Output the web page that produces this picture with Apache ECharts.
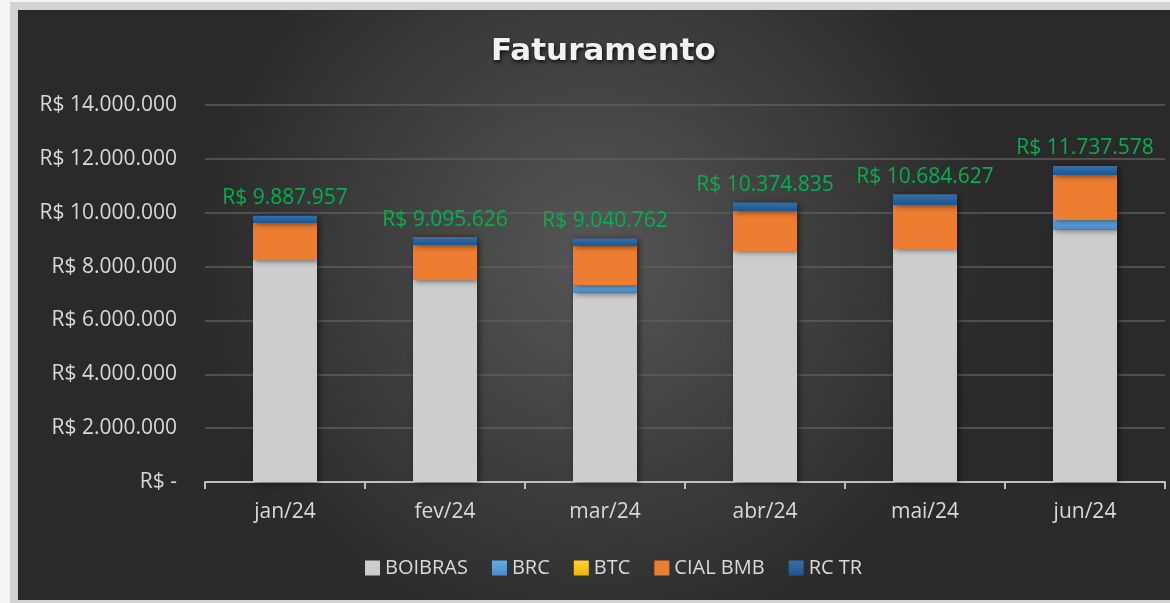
<!DOCTYPE html>
<html lang="pt-BR">
<head>
	<meta charset="utf-8" />
	<title>Faturamento</title>
	<style type="text/css">
		html,body{margin:0;padding:0;background:#f4f4f4;overflow:hidden;}
		.frame{position:absolute;left:10px;top:2px;width:1170px;height:590px;border:8px solid #d3d1d3;border-right:none;}
		#chart{position:absolute;left:0;top:0;width:1152px;height:590px;}
	</style>
</head>
<body>
	<div class="frame"><div id="chart"></div></div>
<script src="https://cdn.jsdelivr.net/npm/echarts@6/dist/echarts.min.js"></script>
<script>
	// dados
	var months = ['jan/24', 'fev/24', 'mar/24', 'abr/24', 'mai/24', 'jun/24'];
	var boibras = [8240000, 7500000, 7030000, 8580000, 8650000, 9390000];
	var brc = [0, 0, 270000, 0, 0, 340000];
	var btc = [0, 0, 0, 0, 0, 0];
	var cialBmb = [1380000, 1300000, 1460000, 1480000, 1640000, 1670000];
	var rcTr = [267957, 295626, 280762, 314835, 394627, 337578];
	var totals = [9887957, 9095626, 9040762, 10374835, 10684627, 11737578];
	var yTicks = [0, 2000000, 4000000, 6000000, 8000000, 10000000, 12000000, 14000000];

	var FONT = '"Open Sans", sans-serif';

	function brl(v) {
		var s = String(Math.round(v));
		return s.replace(/\B(?=(\d{3})+(?!\d))/g, '.');
	}

	function vgrad(top, bottom) {
		return new echarts.graphic.LinearGradient(0, 0, 0, 1, [
			{offset: 0, color: top}, {offset: 1, color: bottom}
		]);
	}

	var shadow = {shadowBlur: 6, shadowColor: 'rgba(0,0,0,0.55)', shadowOffsetX: 2, shadowOffsetY: 1};

	function barSeries(name, data, color) {
		return {
			name: name,
			type: 'bar',
			stack: 'total',
			barWidth: '40%',
			data: data,
			itemStyle: Object.assign({color: color}, shadow)
		};
	}

	var chart = echarts.init(document.getElementById('chart'));

	var series = [
		barSeries('BOIBRAS', boibras, '#cdcdcd'),
		barSeries('BRC', brc, vgrad('#6aaae4', '#4a8ccc')),
		barSeries('BTC', btc, vgrad('#ffd23a', '#f0b400')),
		barSeries('CIAL BMB', cialBmb, '#ed7d31'),
		barSeries('RC TR', rcTr, vgrad('#3a6ea5', '#1d5590'))
	];
	series[4].label = {
		show: true,
		position: 'top',
		distance: 7,
		color: '#00b050',
		fontFamily: FONT,
		fontSize: 21,
		formatter: function (p) { return 'R$ ' + brl(totals[p.dataIndex]); }
	};

	chart.setOption({
		backgroundColor: new echarts.graphic.RadialGradient(0.5, 0.42, 0.68, [
			{offset: 0, color: '#565656'},
			{offset: 1, color: '#2a2a2a'}
		]),
		title: {
			text: 'Faturamento',
			left: 468,
			top: 21,
			textStyle: {
				color: '#f2f2f2',
				fontFamily: '"DejaVu Sans", sans-serif',
				fontWeight: 'bold',
				fontSize: 31,
				textShadowColor: 'rgba(0,0,0,0.8)',
				textShadowBlur: 4,
				textShadowOffsetX: 1,
				textShadowOffsetY: 2
			}
		},
		legend: {
			bottom: 17,
			left: 342,
			itemWidth: 15,
			itemHeight: 15,
			itemGap: 24,
			icon: 'rect',
			textStyle: {color: '#d9d9d9', fontFamily: FONT, fontSize: 20},
			data: ['BOIBRAS', 'BRC', 'BTC', 'CIAL BMB', 'RC TR']
		},
		grid: {left: 187, right: 5, top: 95, bottom: 118},
		xAxis: {
			type: 'category',
			data: months,
			axisLine: {lineStyle: {color: '#bfbfbf', width: 2}},
			axisTick: {show: true, length: 7, lineStyle: {color: '#bfbfbf', width: 2}},
			axisLabel: {color: '#d9d9d9', fontFamily: FONT, fontSize: 21, margin: 20}
		},
		yAxis: {
			type: 'value',
			min: yTicks[0],
			max: yTicks[yTicks.length - 1],
			interval: yTicks[1] - yTicks[0],
			axisLine: {show: false},
			axisTick: {show: false},
			splitLine: {lineStyle: {color: '#5e5e5e', width: 1.5}},
			axisLabel: {
				color: '#d9d9d9',
				fontFamily: FONT,
				fontSize: 21,
				margin: 28,
				formatter: function (v) { return v === 0 ? 'R$ -' : 'R$ ' + brl(v); }
			}
		},
		series: series
	});
</script>
</body>
</html>
